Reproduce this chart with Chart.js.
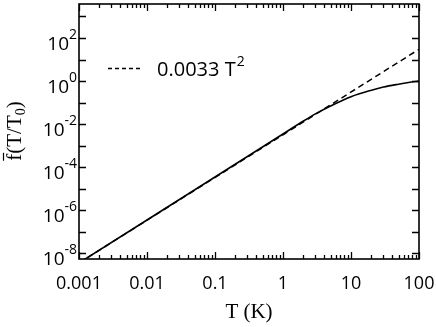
<!DOCTYPE html>
<html>
<head>
<meta charset="utf-8">
<script src="https://cdn.jsdelivr.net/npm/chart.js@4.4.0/dist/chart.umd.min.js"></script>
<style>
  html, body { margin: 0; padding: 0; background: #fff; }
</style>
</head>
<body>
<canvas id="chartCanvas" width="436" height="327"></canvas>
<script>
// values
const temps = [0.001, 1, 2, 3, 5, 10, 20, 30, 50, 70, 100];
const fBar = [3.6e-9, 0.0035, 0.014, 0.030, 0.070, 0.19, 0.38, 0.53, 0.72, 0.86, 1.0];
const fitTemps = [0.001, 100];
const fitVals = [3.6e-9, 30];
const fitLabel = '0.0033 T';
const xDecades = [0.001, 0.01, 0.1, 1, 10, 100];
const xLabels = ['0.001', '0.01', '0.1', '1', '10', '100'];
const yTickExps = [-8, -7, -6, -5, -4, -3, -2, -1, 0, 1, 2, 3];
const yLabelExps = [-8, -6, -4, -2, 0, 2];

const sans = 'Open Sans';
const serif = 'Liberation Serif';

// minor tick positions 2..9 of each decade on x
let xTickVals = [];
xDecades.forEach((d, i) => {
  xTickVals.push(d);
  if (i < xDecades.length - 1) {
    for (let k = 2; k <= 9; k++) xTickVals.push(d * k);
  }
});

const isDecade = (v) => Math.abs(Math.log10(v) - Math.round(Math.log10(v))) < 1e-6;

const framePlugin = {
  id: 'frame',
  afterDatasetsDraw(chart) {
    const ctx = chart.ctx;
    const a = chart.chartArea;
    const xs = chart.scales.x;
    const ys = chart.scales.y;
    ctx.save();
    ctx.strokeStyle = '#000';
    ctx.fillStyle = '#000';
    ctx.lineWidth = 1.6;
    ctx.strokeRect(a.left, a.top, a.right - a.left, a.bottom - a.top);

    ctx.lineWidth = 1.3;
    ctx.beginPath();
    yTickExps.forEach(e => {
      const py = Math.round(ys.getPixelForValue(Math.pow(10, e))) + 0.5;
      ctx.moveTo(a.left, py); ctx.lineTo(a.left + 7, py);
      ctx.moveTo(a.right, py); ctx.lineTo(a.right - 7, py);
    });
    xTickVals.forEach(v => {
      const px = Math.round(xs.getPixelForValue(v)) + 0.5;
      const len = isDecade(v) ? 7 : 4;
      ctx.moveTo(px, a.bottom); ctx.lineTo(px, a.bottom - len);
      ctx.moveTo(px, a.top); ctx.lineTo(px, a.top + len);
    });
    ctx.stroke();

    // y tick labels with superscript exponents
    ctx.textBaseline = 'alphabetic';
    ctx.textAlign = 'right';
    yLabelExps.forEach(e => {
      const py = ys.getPixelForValue(Math.pow(10, e));
      const exp = e < 0 ? '-' + (-e) : String(e);
      ctx.font = '14px "' + sans + '"';
      const ew = ctx.measureText(exp).width;
      ctx.fillText(exp, 77, py + 1);
      ctx.font = '19px "' + sans + '"';
      ctx.fillText('10', 77 - ew, py + 12);
    });

    // y title: f-bar(T/T0)
    ctx.save();
    ctx.translate(21, 131);
    ctx.rotate(-Math.PI / 2);
    ctx.textAlign = 'left';
    const big = '21px "' + serif + '"';
    const small = '14px "' + serif + '"';
    ctx.font = big;
    const wf = ctx.measureText('f').width;
    const wm = ctx.measureText('(T/T').width;
    const wp = ctx.measureText(')').width;
    ctx.font = small;
    const ws = ctx.measureText('0').width;
    let x0 = -(wf + wm + ws + wp) / 2;
    ctx.font = big;
    ctx.fillText('f', x0, 0);
    ctx.lineWidth = 1.2;
    ctx.beginPath();
    ctx.moveTo(x0, -17.5); ctx.lineTo(x0 + wf + 1, -17.5);
    ctx.stroke();
    ctx.fillText('(T/T', x0 + wf, 0);
    ctx.font = small;
    ctx.fillText('0', x0 + wf + wm, 4);
    ctx.font = big;
    ctx.fillText(')', x0 + wf + wm + ws, 0);
    ctx.restore();

    // legend for the fit line
    ctx.lineWidth = 1.5;
    ctx.setLineDash([4, 3]);
    ctx.beginPath();
    ctx.moveTo(108, 68.5); ctx.lineTo(143, 68.5);
    ctx.stroke();
    ctx.setLineDash([]);
    ctx.textAlign = 'left';
    ctx.font = '20px "' + sans + '"';
    ctx.fillText(fitLabel, 157, 76);
    const tw = ctx.measureText(fitLabel).width;
    ctx.font = '14px "' + sans + '"';
    ctx.fillText('2', 157 + tw + 1, 66);
    ctx.restore();
  }
};

let mychart = document.getElementById('chartCanvas').getContext('2d');
var chart = new Chart(mychart, {
  type: 'line',
  data: {
    datasets: [
      {
        label: 'f',
        data: temps.map((t, i) => ({ x: t, y: fBar[i] })),
        borderColor: '#000',
        borderWidth: 1.6,
        pointRadius: 0,
        cubicInterpolationMode: 'monotone'
      },
      {
        label: fitLabel,
        data: fitTemps.map((t, i) => ({ x: t, y: fitVals[i] })),
        borderColor: '#000',
        borderWidth: 1.5,
        borderDash: [6, 4],
        pointRadius: 0
      }
    ]
  },
  options: {
    responsive: false,
    animation: false,
    layout: { padding: { top: 4, right: 17, left: 0, bottom: 0 } },
    plugins: { legend: { display: false }, tooltip: { enabled: false } },
    scales: {
      x: {
        type: 'logarithmic',
        min: 0.001,
        max: 100,
        afterBuildTicks: (s) => { s.ticks = xTickVals.map(v => ({ value: v })); },
        afterFit: (s) => { s.height = 68; s.paddingLeft = 0; s.paddingRight = 0; },
        grid: { display: false },
        border: { display: false },
        ticks: {
          autoSkip: false,
          maxRotation: 0,
          padding: 6,
          color: '#000',
          font: { family: sans, size: 18 },
          callback: (v, i, ticks) => {
            const val = ticks[i].value;
            const k = xDecades.findIndex(d => Math.abs(d - val) / d < 1e-6);
            return k < 0 ? '' : xLabels[k];
          }
        },
        title: {
          display: true,
          text: 'T (K)',
          color: '#000',
          font: { family: serif, size: 21 },
          padding: { top: 0, bottom: 2 }
        }
      },
      y: {
        type: 'logarithmic',
        min: 5.5e-9,
        max: 3.8e3,
        afterBuildTicks: (s) => { s.ticks = yTickExps.map(e => ({ value: Math.pow(10, e) })); },
        afterFit: (s) => { s.width = 79; s.paddingTop = 0; s.paddingBottom = 0; },
        grid: { display: false },
        border: { display: false },
        ticks: { display: false }
      }
    }
  },
  plugins: [framePlugin]
});
</script>
</body>
</html>
